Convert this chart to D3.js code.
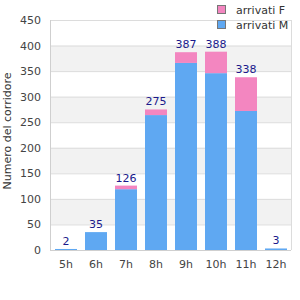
<!DOCTYPE html>
<html>
<head>
<meta charset="utf-8">
<style>
  body { margin: 0; background: #fff; }
  text { font-family: "DejaVu Sans", sans-serif; }
</style>
</head>
<body>
<div id="container"></div>
<script src="https://cdn.jsdelivr.net/npm/d3@7"></script>
<script>
// data
const hours = ["5h", "6h", "7h", "8h", "9h", "10h", "11h", "12h"];
const arrivatiM = [2, 35, 119, 264, 366, 346, 272, 3];
const arrivatiF = [0, 0, 7, 11, 21, 42, 66, 0];
const yTicks = [0, 50, 100, 150, 200, 250, 300, 350, 400, 450];

const BLUE = "#5fa8f2", PINK = "#f386c0";

const width = 300, height = 300;
const svg = d3.select("#container").append("svg")
    .attr("width", width)
    .attr("height", height);

const x = d3.scaleBand().domain(hours).range([51, 291])
    .paddingInner(0.2667).paddingOuter(0.1333);
const y = d3.scaleLinear().domain([0, 450]).range([250, 20]);

// alternating bands
for (let i = 0; i < yTicks.length - 1; i++) {
  if (i % 2 == 1) {
    svg.append("rect")
      .attr("x", 50).attr("width", 241)
      .attr("y", y(yTicks[i + 1])).attr("height", y(yTicks[i]) - y(yTicks[i + 1]))
      .attr("fill", "#f2f2f2");
  }
}

// grid lines
svg.append("g").selectAll("line").data(yTicks).enter().append("line")
    .attr("x1", 50).attr("x2", 291)
    .attr("y1", d => y(d) + 0.5).attr("y2", d => y(d) + 0.5)
    .attr("stroke", "#dcdcdc");

svg.append("line")
    .attr("x1", 291.5).attr("x2", 291.5).attr("y1", 20).attr("y2", 250)
    .attr("stroke", "#dcdcdc");

// stacked bars
const rows = hours.map((h, i) => ({ h: h, m: arrivatiM[i], f: arrivatiF[i] }));

svg.append("g").selectAll("rect").data(rows).enter().append("rect")
    .attr("x", d => x(d.h)).attr("width", x.bandwidth())
    .attr("y", d => y(d.m)).attr("height", d => y(0) - y(d.m))
    .attr("fill", BLUE);

svg.append("g").selectAll("rect").data(rows.filter(d => d.f > 0)).enter().append("rect")
    .attr("x", d => x(d.h)).attr("width", x.bandwidth())
    .attr("y", d => y(d.m + d.f)).attr("height", d => y(d.m) - y(d.m + d.f))
    .attr("fill", PINK);

// totals
svg.append("g").selectAll("text").data(rows).enter().append("text")
    .attr("x", d => x(d.h) + x.bandwidth() / 2)
    .attr("y", d => y(d.m + d.f) - 4)
    .attr("text-anchor", "middle")
    .attr("font-size", 11)
    .attr("fill", "#1a1a8c")
    .text(d => d.m + d.f);

// axes lines
svg.append("line")
    .attr("x1", 50.5).attr("x2", 50.5).attr("y1", 20).attr("y2", 250)
    .attr("stroke", "#cfcfcf");
svg.append("line")
    .attr("x1", 50).attr("x2", 291).attr("y1", 250.5).attr("y2", 250.5)
    .attr("stroke", "#cfcfcf");

// y tick labels
svg.append("g").selectAll("text").data(yTicks).enter().append("text")
    .attr("x", 41).attr("y", d => y(d) + 4)
    .attr("text-anchor", "end")
    .attr("font-size", 11)
    .attr("fill", "#444")
    .text(d => d);

// x tick labels
svg.append("g").selectAll("text").data(hours).enter().append("text")
    .attr("x", d => x(d) + x.bandwidth() / 2)
    .attr("y", 268)
    .attr("text-anchor", "middle")
    .attr("font-size", 11)
    .attr("fill", "#444")
    .text(d => d);

// y axis title
svg.append("text")
    .attr("transform", "translate(11,131) rotate(-90)")
    .attr("text-anchor", "middle")
    .attr("font-size", 11)
    .attr("fill", "#333")
    .text("Numero del corridore");

// legend
const legend = [{ name: "arrivati F", c: PINK }, { name: "arrivati M", c: BLUE }];
const lg = svg.append("g").selectAll("g").data(legend).enter().append("g")
    .attr("transform", (d, i) => `translate(217,${5 + i * 15})`);
lg.append("rect").attr("x", 0.5).attr("y", 0.5).attr("width", 8).attr("height", 8)
    .attr("fill", d => d.c).attr("stroke", "#777");
lg.append("text").attr("x", 19).attr("y", 8.5)
    .attr("font-size", 11).attr("fill", "#333")
    .text(d => d.name);
</script>
</body>
</html>
